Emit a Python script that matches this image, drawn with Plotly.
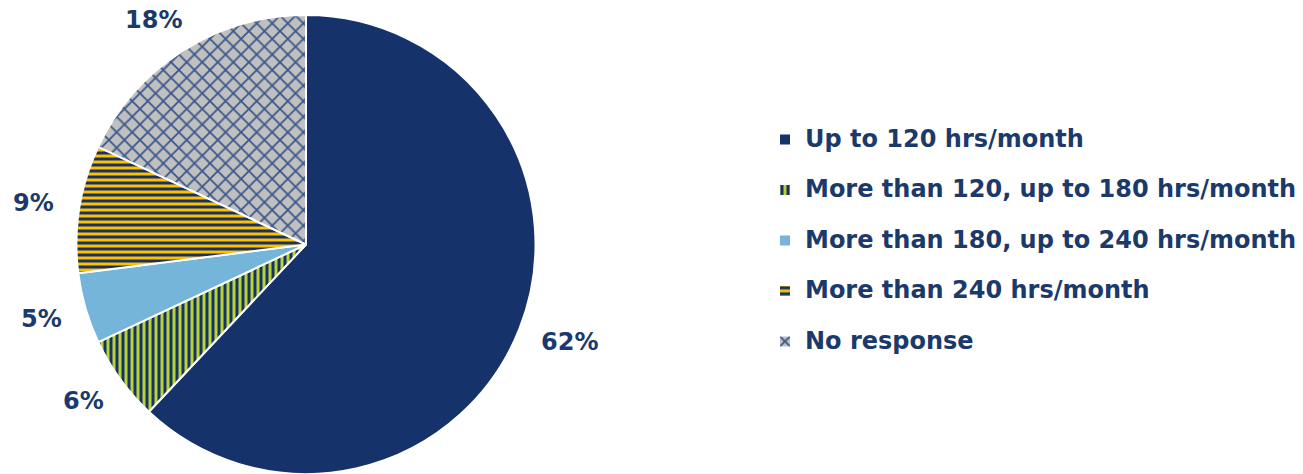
import math
import plotly.graph_objects as go

# Monthly hours survey responses (percent of respondents)
categories = [
    "Up to 120 hrs/month",
    "More than 120, up to 180 hrs/month",
    "More than 180, up to 240 hrs/month",
    "More than 240 hrs/month",
    "No response",
]
shares = [62, 6, 5, 9, 18]

NAVY = "#15326a"
TEXT = "#1b3a6b"
slice_colors = [NAVY, "#b9d433", "#75b5d9", "#ffc000", "#c0c0c0"]
pattern_shapes = ["", "|", "", "-", "x"]
pattern_fg = [NAVY, NAVY, NAVY, NAVY, "#3a578c"]
pattern_size = [6, 6, 6, 6, 11]
pattern_solidity = [0.5, 0.5, 0.5, 0.5, 0.3]

W, H = 1303, 474
# pie geometry in pixels
cx, top = 306, 15
R = (H - top) / 2
cy = top + R

LEG_FS = 18.27   # legend line size controls row spacing
TXT_FS = 24

legend_labels = [
    f'<span style="font-size:{TXT_FS}px">{c}</span><br>&nbsp;' for c in categories
]

fig = go.Figure()
fig.add_trace(
    go.Pie(
        labels=legend_labels,
        values=shares,
        sort=False,
        direction="clockwise",
        rotation=0,
        textinfo="none",
        hoverinfo="skip",
        marker=dict(
            colors=slice_colors,
            line=dict(color="white", width=2),
            pattern=dict(
                shape=pattern_shapes,
                fgcolor=pattern_fg,
                bgcolor=slice_colors,
                size=pattern_size,
                solidity=pattern_solidity,
            ),
        ),
        domain=dict(x=[(cx - R) / W, (cx + R) / W], y=[0, 1 - top / H]),
    )
)


def text_width(s, fs):
    # approximate advance width of bold digits and percent sign
    return (sum(0.696 for ch in s if ch.isdigit()) + 1.002 * s.count("%")) * fs


# percentage labels placed outside each slice, along its mid-angle
total = sum(shares)
label_r = 1.112 * R
half_h = 11
cum = 0
annotations = []
for v in shares:
    mid = (cum + v / 2) / total * 2 * math.pi
    cum += v
    txt = f"{v}%"
    sx, sy = math.sin(mid), -math.cos(mid)
    hw = text_width(txt, TXT_FS) / 2
    px = cx + label_r * sx + hw * sx
    py = cy + label_r * sy + half_h * sy
    annotations.append(
        dict(
            x=px / W,
            y=1 - py / H,
            xref="paper",
            yref="paper",
            text=txt,
            showarrow=False,
            xanchor="center",
            yanchor="middle",
            font=dict(size=TXT_FS, color=TEXT, family="DejaVu Sans", weight="bold"),
        )
    )

fig.update_layout(
    width=W,
    height=H,
    margin=dict(l=0, r=0, t=0, b=0),
    paper_bgcolor="white",
    plot_bgcolor="white",
    showlegend=True,
    annotations=annotations,
    legend=dict(
        x=765 / W,
        y=1 - 121 / H,
        xanchor="left",
        yanchor="top",
        valign="top",
        font=dict(size=LEG_FS, color=TEXT, family="DejaVu Sans", weight="bold"),
        bgcolor="rgba(0,0,0,0)",
        borderwidth=0,
        traceorder="normal",
    ),
)

fig.write_html("out.html")
